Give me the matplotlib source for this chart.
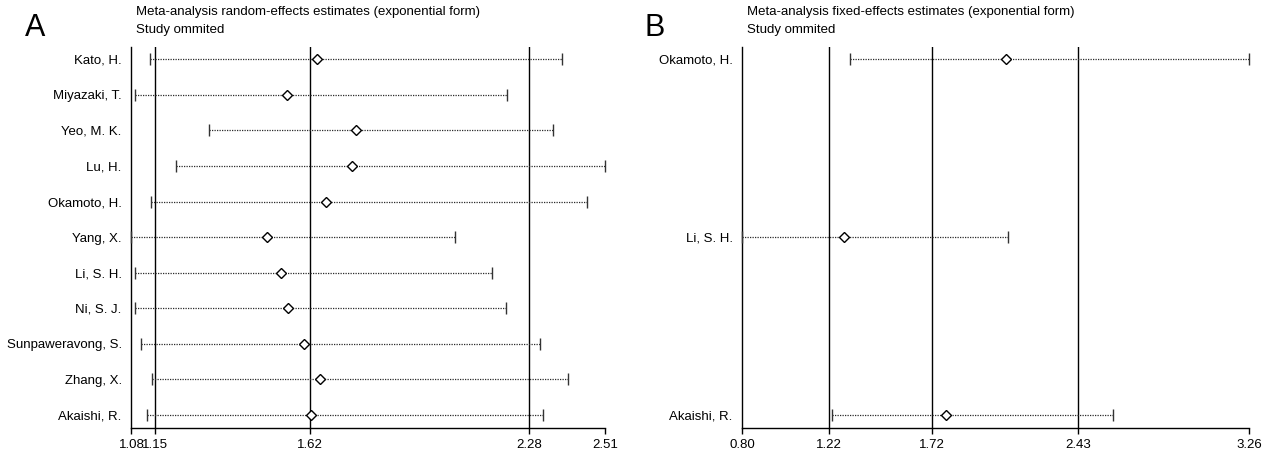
import matplotlib
matplotlib.use("Agg")
import matplotlib.pyplot as plt

# ========== DATA ==========
# Panel A: random-effects, one study omitted at a time
studies_a = ["Kato, H.", "Miyazaki, T.", "Yeo, M. K.", "Lu, H.", "Okamoto, H.",
             "Yang, X.", "Li, S. H.", "Ni, S. J.", "Sunpaweravong, S.",
             "Zhang, X.", "Akaishi, R."]
est_a   = [1.641, 1.551, 1.758, 1.745, 1.669, 1.489, 1.533, 1.552, 1.601, 1.650, 1.622]
lower_a = [1.136, 1.091, 1.314, 1.216, 1.139, 1.080, 1.090, 1.091, 1.110, 1.141, 1.128]
upper_a = [2.381, 2.213, 2.354, 2.510, 2.456, 2.056, 2.168, 2.211, 2.313, 2.398, 2.324]
ref_a   = [1.15, 1.62, 2.28]
ticks_a = [1.08, 1.15, 1.62, 2.28, 2.51]

# Panel B: fixed-effects
studies_b = ["Okamoto, H.", "Li, S. H.", "Akaishi, R."]
est_b   = [2.079, 1.292, 1.791]
lower_b = [1.324, 0.800, 1.236]
upper_b = [3.260, 2.091, 2.602]
ref_b   = [1.22, 1.72, 2.43]
ticks_b = [0.80, 1.22, 1.72, 2.43, 3.26]
# ==========================

plt.rcParams["font.family"] = ["Liberation Sans", "DejaVu Sans"]
FS = 9.5

W, H = 1280, 455
fig = plt.figure(figsize=(W / 100, H / 100), dpi=100)


def panel(rect, studies, est, lower, upper, refs, ticks, ylim):
    ax = fig.add_axes(rect)
    y = list(range(1, len(studies) + 1))
    for yi, lo, hi in zip(y, lower, upper):
        ax.plot([lo, hi], [yi, yi], linestyle=(0, (1, 1.0)), lw=0.9,
                color="#2a2a2a", zorder=2)
        ax.plot([lo, hi], [yi, yi], linestyle="none", marker="|",
                markersize=8, mew=1.0, color="#333333", clip_on=False, zorder=3)
    ax.plot(est, y, linestyle="none", marker="D", markersize=5.3,
            mfc="white", mec="black", mew=1.0, clip_on=False, zorder=4)
    for r in refs:
        ax.axvline(r, color="black", lw=1.0, zorder=1)

    ax.set_xlim(ticks[0], ticks[-1])
    ax.set_ylim(*ylim)
    ax.set_xticks(ticks)
    ax.set_xticklabels([f"{t:.2f}" for t in ticks])
    ax.set_yticks(y)
    ax.set_yticklabels(studies)
    ax.tick_params(axis="y", length=0, pad=7, labelsize=FS)
    ax.tick_params(axis="x", length=4, width=1, pad=4, labelsize=FS,
                   direction="out")
    for s in ("top", "right"):
        ax.spines[s].set_visible(False)
    for s in ("left", "bottom"):
        ax.spines[s].set_linewidth(1.0)
    return ax


bot = 1 - 428 / H
hgt = (428 - 46.7) / H
panel([131.4 / W, bot, (605 - 131.4) / W, hgt],
      studies_a, est_a, lower_a, upper_a, ref_a, ticks_a, (11.365, 0.646))
panel([742.4 / W, bot, (1249 - 742.4) / W, hgt],
      studies_b, est_b, lower_b, upper_b, ref_b, ticks_b, (3.073, 0.929))

# panel letters and titles
fig.text(35 / W, 1 - 28 / H, "A", fontsize=22, ha="center", va="center")
fig.text(655 / W, 1 - 28 / H, "B", fontsize=22, ha="center", va="center")
fig.text(135.5 / W, 1 - 11.7 / H,
         "Meta-analysis random-effects estimates (exponential form)",
         fontsize=FS, va="center")
fig.text(135.5 / W, 1 - 30 / H, "Study ommited", fontsize=FS, va="center")
fig.text(747 / W, 1 - 11.7 / H,
         "Meta-analysis fixed-effects estimates (exponential form)",
         fontsize=FS, va="center")
fig.text(747 / W, 1 - 30 / H, "Study ommited", fontsize=FS, va="center")

fig.savefig("out.png", dpi=100)
